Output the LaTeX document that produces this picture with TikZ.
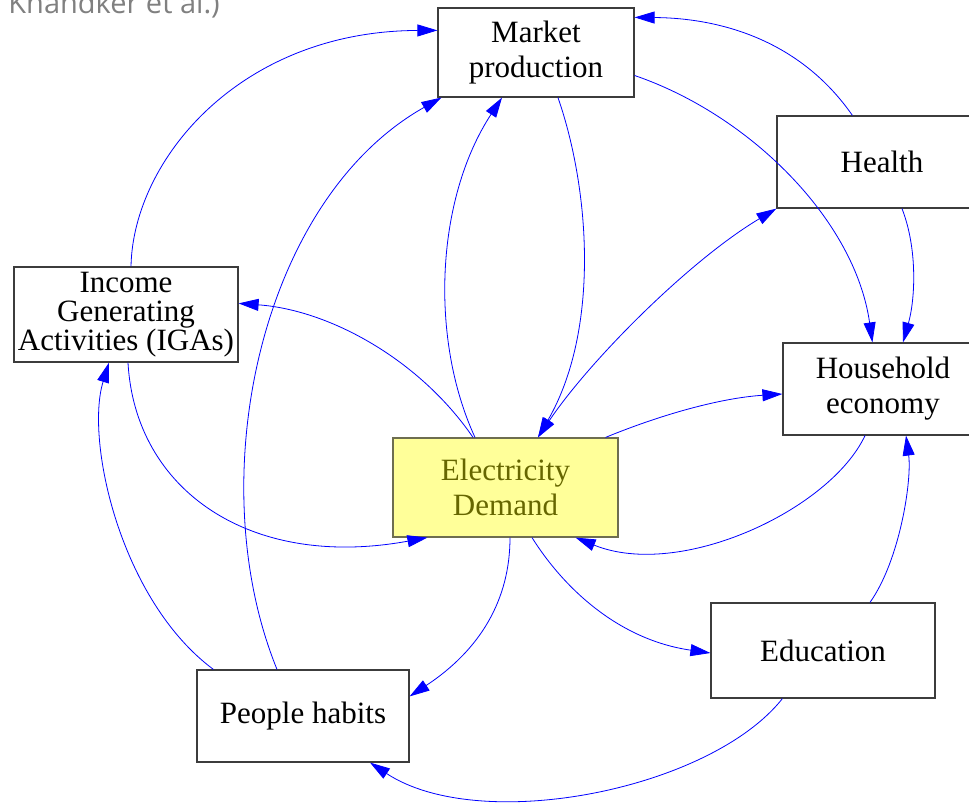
\documentclass[tikz,border=0pt]{standalone}
\usepackage{fontspec}
\setmainfont{Liberation Serif}
\newfontfamily\opensans{Open Sans}
\usetikzlibrary{arrows.meta,calc}
\definecolor{boxline}{RGB}{60,60,60}
\definecolor{elfill}{RGB}{255,255,153}
\definecolor{eltext}{RGB}{102,102,0}
\definecolor{elline}{RGB}{110,110,80}
\definecolor{edgeblue}{RGB}{0,0,255}
\definecolor{captiongray}{RGB}{128,128,128}
\tikzset{
  box/.style={draw=boxline, line width=1.2pt, rectangle, inner sep=0pt, align=center,
    font=\fontsize{31}{35}\selectfont},
  elbox/.style={box, fill=elfill, draw=elline, text=eltext},
  link/.style={draw=edgeblue, line width=0.8pt, -{Triangle[length=20pt,width=12pt]}},
  biglink/.style={draw=edgeblue, line width=0.8pt, {Triangle[length=20pt,width=12pt]}-{Triangle[length=20pt,width=12pt]}}
}
\begin{document}
\begin{tikzpicture}[x=1pt,y=-1pt]
\useasboundingbox (0,0) rectangle (969,803);
\fill[white] (0,0) rectangle (969,803);
% caption fragment
\node[anchor=base east, inner sep=0pt, text=captiongray, font=\opensans\fontsize{29}{33}\selectfont] (cap) at (220,13) {Khandker et al.)};
% nodes
\node[box, minimum width=196pt, minimum height=89pt] (mp) at (536,52.5) {Market\\production};
\node[box, minimum width=210pt, minimum height=92pt] (health) at (882,162) {Health};
\node[box, minimum width=200pt, minimum height=92pt] (hh) at (883,389) {Household\\economy};
\node[box, minimum width=224pt, minimum height=95pt, font=\fontsize{31}{29}\selectfont] (iga) at (126,314.5) {Income\\Generating\\Activities (IGAs)};
\node[elbox, minimum width=225pt, minimum height=99pt] (el) at (505.5,487.5) {Electricity\\Demand};
\node[box, minimum width=224pt, minimum height=95pt] (edu) at (823,650.5) {Education};
\node[box, minimum width=212pt, minimum height=92pt] (ph) at (303,716) {People habits};
% edges
\draw[link] ($(iga.north)+(5,0)$) .. controls (133,160) and (240,31) .. ($(mp.north west)+(0,23)$);
\draw[link] ($(el.north)+(-32.5,0)$) .. controls (420,360) and (330,310) .. ($(iga.north east)+(0,37)$);
\draw[link] ($(iga.south)+(2,0)$) .. controls (135,490) and (250,570) .. ($(el.south west)+(35,0)$);
\draw[link] ($(ph.north west)+(17,0)$) .. controls (120,600) and (85,440) .. ($(iga.south)+(-17,0)$);
\draw[link] ($(ph.north)+(-26,0)$) .. controls (200,480) and (260,200) .. ($(mp.south west)+(4,0)$);
\draw[link] ($(el.north)+(-30.5,0)$) .. controls (430,340) and (435,200) .. ($(mp.south)+(-34,0)$);
\draw[link] ($(mp.south)+(22,0)$) .. controls (590,190) and (600,330) .. ($(el.north)+(32.5,0)$);
\draw[biglink] ($(el.north)+(32.5,0)$) .. controls (590,360) and (690,260) .. (health.south west);
\draw[link] ($(health.north west)+(76,0)$) .. controls (800,40) and (720,18) .. ($(mp.north east)+(0,10)$);
\draw[link] ($(mp.east)+(0,23)$) .. controls (750,115) and (855,220) .. ($(hh.north west)+(90,0)$);
\draw[link] ($(health.south)+(20,0)$) .. controls (918,250) and (915,300) .. ($(hh.north)+(20,0)$);
\draw[link] ($(el.north east)+(-13,0)$) .. controls (660,415) and (720,398) .. ($(hh.west)+(0,5)$);
\draw[link] ($(hh.south)+(-18,0)$) .. controls (830,510) and (680,580) .. ($(el.south east)+(-43,0)$);
\draw[link] ($(edu.north)+(47,0)$) .. controls (900,560) and (912,480) .. ($(hh.south)+(23,0)$);
\draw[link] ($(el.south)+(26.5,0)$) .. controls (565,590) and (620,640) .. ($(edu.west)+(0,2.5)$);
\draw[link] ($(el.south)+(4.5,0)$) .. controls (510,600) and (480,650) .. ($(ph.north east)+(0,27)$);
\draw[link] ($(edu.south west)+(72,0)$) .. controls (710,790) and (480,835) .. ($(ph.south)+(67,0)$);
\end{tikzpicture}
\end{document}
